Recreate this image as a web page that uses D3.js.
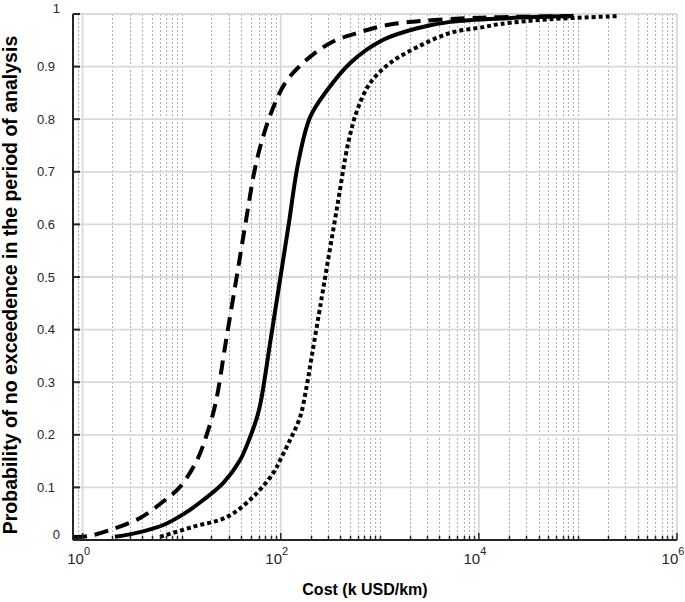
<!DOCTYPE html>
<html>
<head>
<meta charset="utf-8">
<script src="https://cdn.jsdelivr.net/npm/d3@7"></script>
<style>
  body { margin: 0; background: #fff; }
  text { font-family: "Liberation Sans", Arial, sans-serif; fill: #262626; }
</style>
</head>
<body>
<svg id="chart" width="685" height="602"></svg>
<script>
// cumulative probability of cost, three scenarios
var lowX  = [0.8, 1.11, 1.89, 3.8, 6.8, 9.63, 14.3, 18.1, 22, 28.1, 35.9, 44.2, 54.5, 64.8, 81.9, 111, 168, 316, 591, 1189, 2744, 7630, 16400, 90000];
var lowY  = [0.006, 0.007, 0.019, 0.042, 0.076, 0.101, 0.152, 0.203, 0.26, 0.38, 0.5, 0.603, 0.703, 0.76, 0.817, 0.869, 0.907, 0.945, 0.964, 0.979, 0.987, 0.992, 0.994, 0.996];
var midX  = [2.12, 3.8, 6.8, 10.8, 16.5, 26.2, 38.9, 49.1, 57.8, 63.4, 78.9, 99.4, 121, 150, 198, 294, 503, 1082, 2387, 5140, 19800, 90000];
var midY  = [0.006, 0.015, 0.03, 0.051, 0.076, 0.108, 0.152, 0.196, 0.234, 0.266, 0.38, 0.5, 0.603, 0.717, 0.804, 0.855, 0.907, 0.951, 0.973, 0.985, 0.992, 0.996];
var highX = [6.05, 13, 28.8, 52.6, 83.8, 98.6, 124, 157, 185, 208, 254, 281, 371, 480, 591, 800, 1274, 2387, 5140, 11070, 16400, 52600, 250000];
var highY = [0.006, 0.025, 0.044, 0.082, 0.127, 0.152, 0.19, 0.234, 0.298, 0.355, 0.451, 0.5, 0.633, 0.755, 0.817, 0.869, 0.907, 0.937, 0.964, 0.975, 0.981, 0.99, 0.996];

var yTicks = [0, 0.1, 0.2, 0.3, 0.4, 0.5, 0.6, 0.7, 0.8, 0.9, 1];
var xMajor = [1, 100, 10000, 1000000];
var xLabels = ["0", "2", "4", "6"];

var svg = d3.select("#chart");
var margin = {top: 14, right: 8, bottom: 62, left: 73},
    width = 685 - margin.left - margin.right,
    height = 602 - margin.top - margin.bottom;
var g = svg.append("g").attr("transform", "translate(" + margin.left + "," + margin.top + ")");

var x = d3.scaleLog().domain([0.8, 1e6]).range([0, width]);
var y = d3.scaleLinear().domain([0, 1]).range([height, 0]);
var px = function(v) { return Math.round(x(v)) + 0.5; };

// minor positions: every 1..9 x 10^k inside the domain, except the labelled decades
var minor = [];
for (var k = -1; k < 6; k++) {
  for (var m = 1; m < 10; m++) {
    var v = m * Math.pow(10, k);
    if (v >= 0.8 && v <= 1e6 && xMajor.indexOf(v) < 0) minor.push(v);
  }
}

// grid
g.append("g").selectAll("line").data(minor).enter().append("line")
    .attr("x1", px).attr("x2", px)
    .attr("y1", 0).attr("y2", height)
    .attr("stroke", "#b0b0b0").attr("stroke-width", 1).attr("stroke-dasharray", "2,2");
g.append("g").selectAll("line").data(xMajor).enter().append("line")
    .attr("x1", function(d) { return x(d); }).attr("x2", function(d) { return x(d); })
    .attr("y1", 0).attr("y2", height)
    .attr("stroke", "#d9d9d9").attr("stroke-width", 1.8);
g.append("g").selectAll("line").data(yTicks).enter().append("line")
    .attr("x1", 0).attr("x2", width)
    .attr("y1", function(d) { return y(d); }).attr("y2", function(d) { return y(d); })
    .attr("stroke", "#d9d9d9").attr("stroke-width", 1.8);

// curves
var line = d3.line()
    .x(function(d) { return x(d[0]); })
    .y(function(d) { return y(d[1]); })
    .curve(d3.curveCatmullRom.alpha(0.5));

var series = [
  {xs: lowX, ys: lowY, dash: "14,8"},
  {xs: midX, ys: midY, dash: null},
  {xs: highX, ys: highY, dash: "4,3"}
];
series.forEach(function(s) {
  g.append("path")
      .datum(d3.zip(s.xs, s.ys))
      .attr("fill", "none")
      .attr("stroke", "#000")
      .attr("stroke-width", 4)
      .attr("stroke-dasharray", s.dash)
      .attr("d", line);
});

// axes
g.append("line").attr("x1", 0).attr("x2", 0).attr("y1", 0).attr("y2", height)
    .attr("stroke", "#262626").attr("stroke-width", 2);
g.append("line").attr("x1", 0).attr("x2", width).attr("y1", height).attr("y2", height)
    .attr("stroke", "#262626").attr("stroke-width", 2);

g.append("g").selectAll("line").data(yTicks).enter().append("line")
    .attr("x1", 0).attr("x2", 7)
    .attr("y1", function(d) { return y(d); }).attr("y2", function(d) { return y(d); })
    .attr("stroke", "#262626").attr("stroke-width", 2);
g.append("g").selectAll("line").data(minor).enter().append("line")
    .attr("x1", px).attr("x2", px)
    .attr("y1", height).attr("y2", height - 4)
    .attr("stroke", "#262626").attr("stroke-width", 1.5);
g.append("g").selectAll("line").data(xMajor).enter().append("line")
    .attr("x1", function(d) { return x(d); }).attr("x2", function(d) { return x(d); })
    .attr("y1", height).attr("y2", height - 7)
    .attr("stroke", "#262626").attr("stroke-width", 1.5);

// y tick labels
g.append("g").selectAll("text").data(yTicks).enter().append("text")
    .attr("x", function(d) { return (d === 0 || d === 1) ? -13 : -18; })
    .attr("y", function(d) { return y(d) + (d === 0 || d === 1 ? -6 : 0); })
    .attr("dy", "0.35em")
    .attr("text-anchor", "end")
    .style("font-size", "13px")
    .text(function(d) { return d3.format("~g")(d); });

// x tick labels 10^n
var xl = g.append("g").selectAll("text").data(xMajor).enter().append("text")
    .attr("x", function(d) { return x(d) - 4; })
    .attr("y", height + 24)
    .attr("text-anchor", "middle")
    .style("font-size", "15px");
xl.append("tspan").text("10");
xl.append("tspan").attr("dy", -9).style("font-size", "11px")
    .text(function(d, i) { return xLabels[i]; });

// axis titles
svg.append("text")
    .attr("x", 365).attr("y", 595)
    .attr("text-anchor", "middle")
    .style("font-size", "16px").style("font-weight", "bold").style("fill", "#000")
    .text("Cost (k USD/km)");
svg.append("text")
    .attr("transform", "translate(17," + 285 + ") rotate(-90)")
    .attr("text-anchor", "middle")
    .style("font-size", "19.5px").style("font-weight", "bold").style("fill", "#000")
    .text("Probability of no exceedence in the period of analysis");
</script>
</body>
</html>
